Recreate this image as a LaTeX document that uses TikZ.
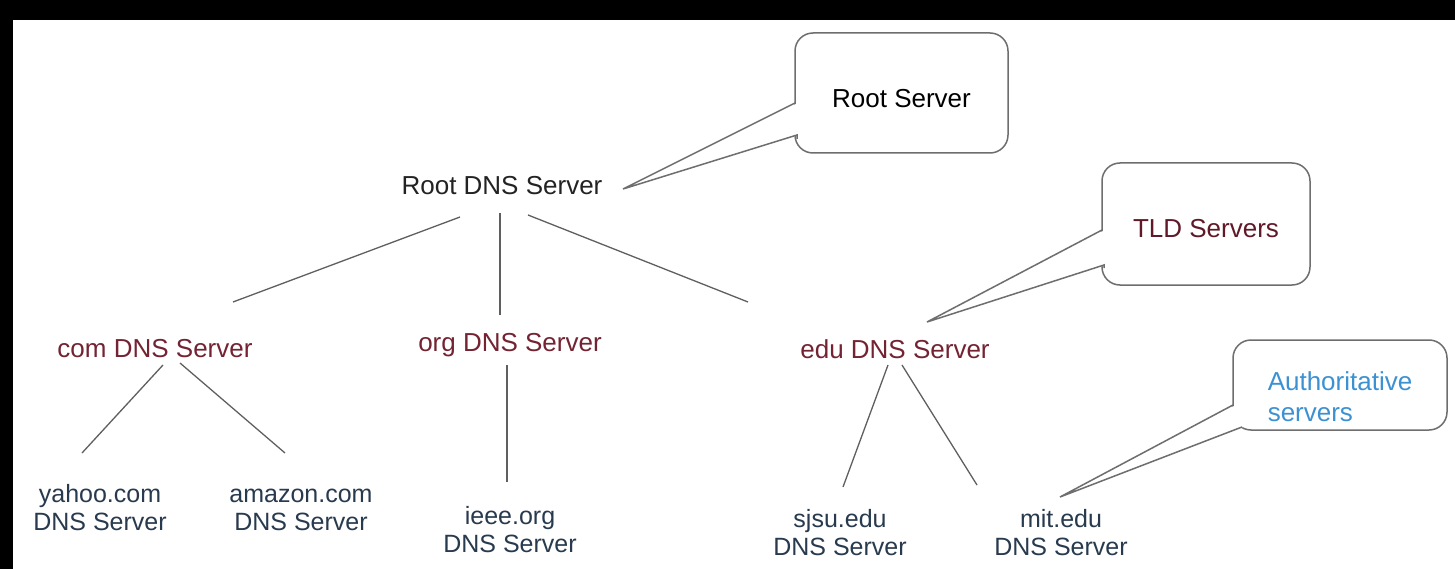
\documentclass[tikz,border=0pt]{standalone}
\usepackage{fontspec}
\setmainfont{Liberation Sans}
\usetikzlibrary{calc}
\definecolor{tierred}{RGB}{115,35,50}
\definecolor{tldred}{RGB}{95,25,40}
\definecolor{leafblue}{RGB}{40,58,78}
\definecolor{authblue}{RGB}{60,145,210}
\definecolor{linegray}{RGB}{95,95,95}
\definecolor{boxgray}{RGB}{110,110,110}
\definecolor{rootblack}{RGB}{35,35,35}
\tikzset{
  lbl/.style={inner sep=0pt, outer sep=0pt, font=\fontsize{26}{31}\selectfont, anchor=base},
  tier/.style={lbl, text=tierred},
  leaf/.style={inner sep=0pt, outer sep=0pt, font=\fontsize{25}{28}\selectfont, text=leafblue, align=center, anchor=base},
  conn/.style={draw=linegray, line width=1.3pt},
  callbox/.style={draw=boxgray, line width=1.5pt, rounded corners=18pt, fill=white, inner sep=0pt, outer sep=0pt, font=\fontsize{26}{31}\selectfont, text depth=0pt},
  callptr/.style={draw=boxgray, line width=1.5pt, line join=miter},
}
\begin{document}
\begin{tikzpicture}[x=1pt, y=-1pt]
\useasboundingbox (0,0) rectangle (1455,569);
\fill[white] (0,0) rectangle (1455,569);
\fill[black] (0,0) rectangle (1455,20);
\fill[black] (0,0) rectangle (13,569);

% tree labels
\node[lbl, text=rootblack] (root) at (502,195) {Root DNS Server};
\node[tier] (com) at (155,357) {com DNS Server};
\node[tier] (org) at (510,351) {org DNS Server};
\node[tier] (edu) at (895,358) {edu DNS Server};
\node[leaf] (yahoo) at (100,530) {yahoo.com\\DNS Server};
\node[leaf] (amazon) at (301,530) {amazon.com\\DNS Server};
\node[leaf] (ieee) at (510,552) {ieee.org\\DNS Server};
\node[leaf] (sjsu) at (840,555) {sjsu.edu\\DNS Server};
\node[leaf] (mit) at (1061,555) {mit.edu\\DNS Server};

% connectors
\draw[conn] ($(root.base)+(-42,22)$) -- ($(com.base)+(78,-55)$);
\draw[conn] ($(root.base)+(-2,18)$) -- ($(org.base)+(-10,-36)$);
\draw[conn] ($(root.base)+(26,20)$) -- ($(edu.base)+(-147,-56)$);
\draw[conn] ($(com.base)+(8,8)$) -- ($(yahoo.base)+(-18,-77)$);
\draw[conn] ($(com.base)+(25,6)$) -- ($(amazon.base)+(-16,-77)$);
\draw[conn] ($(org.base)+(-3,14)$) -- ($(ieee.base)+(-3,-70)$);
\draw[conn] ($(edu.base)+(-7,7)$) -- ($(sjsu.base)+(3,-68)$);
\draw[conn] ($(edu.base)+(7,7)$) -- ($(mit.base)+(-84,-70)$);

% callouts
\node[callbox, minimum width=213pt, minimum height=120pt, text height=30pt, text=black] (rootbox) at (901.5,93) {Root Server};
\coordinate (roottip) at ($(root.base)+(121,-6)$);
\fill[white] ($(rootbox.west)+(3,10)$) -- (roottip) -- ($(rootbox.west)+(4,42)$) -- cycle;
\draw[callptr] ($(rootbox.west)+(0,10)$) -- (roottip) -- ($(rootbox.west)+(2,42)$) -- ($(rootbox.west)+(2,46)$);

\node[callbox, minimum width=208pt, minimum height=122pt, text height=26pt, text=tldred] (tldbox) at (1206,224) {TLD Servers};
\coordinate (tldtip) at ($(edu.base)+(32,-36)$);
\fill[white] ($(tldbox.west)+(3,6)$) -- (tldtip) -- ($(tldbox.west)+(4,41)$) -- cycle;
\draw[callptr] ($(tldbox.west)+(0,6)$) -- (tldtip) -- ($(tldbox.west)+(2,41)$) -- ($(tldbox.west)+(2,44)$);

\node[callbox, minimum width=214pt, minimum height=90pt, align=left, text height=72pt, text=authblue] (authbox) at (1340,385) {Authoritative\\servers};
\coordinate (authtip) at ($(mit.base)+(-1,-58)$);
\fill[white] ($(authbox.west)+(3,20)$) -- (authtip) -- ($(authbox.south west)+(10,-3)$) -- ($(authbox.south west)+(6,-8)$) -- cycle;
\draw[callptr] ($(authbox.west)+(0,20)$) -- (authtip) -- ($(authbox.south west)+(9,-3)$);
\end{tikzpicture}
\end{document}
